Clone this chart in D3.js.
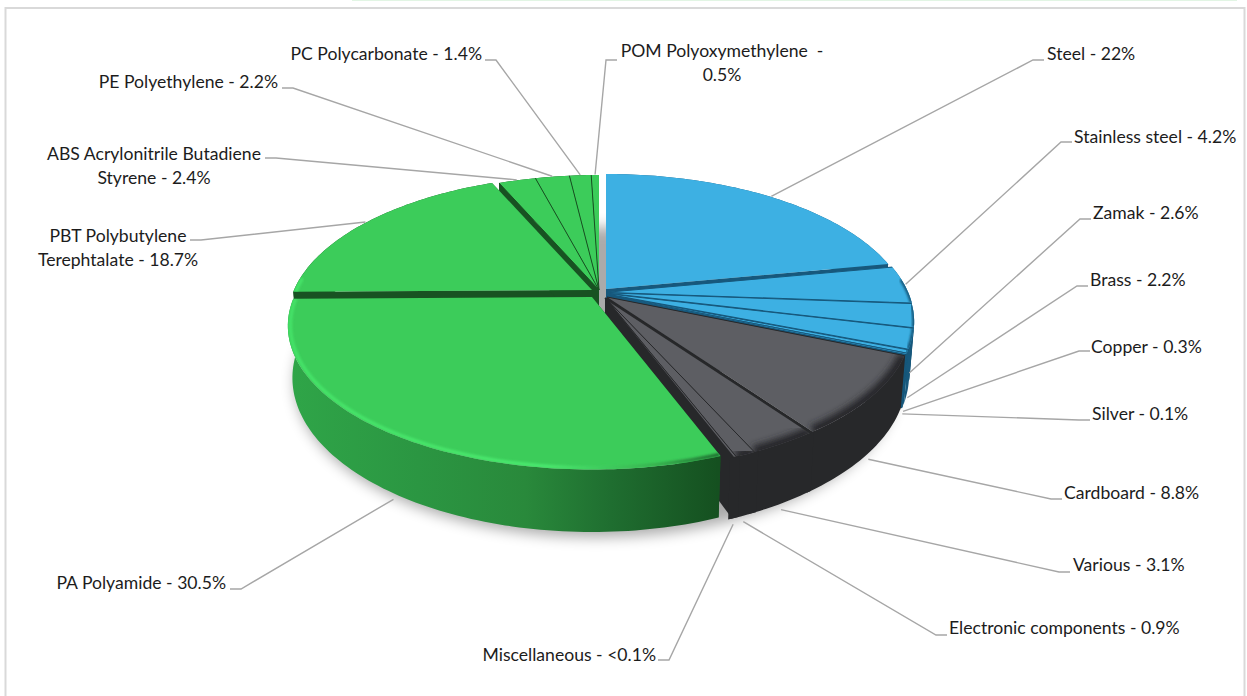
<!DOCTYPE html>
<html>
<head>
<meta charset="utf-8">
<script src="https://cdn.jsdelivr.net/npm/d3@7"></script>
<style>
html, body { margin: 0; padding: 0; background: #fff; }
svg { display: block; }
text { font-family: Lato, "Open Sans", sans-serif; font-size: 17.6px; fill: #1c1c1c; }
</style>
</head>
<body>
<div id="chart"></div>
<script>
var materials = ["Steel", "Stainless steel", "Zamak", "Brass", "Copper", "Silver", "Cardboard", "Various",
    "Electronic components", "Miscellaneous", "PA Polyamide", "PBT Polybutylene Terephtalate",
    "ABS Acrylonitrile Butadiene Styrene", "PE Polyethylene", "PC Polycarbonate", "POM Polyoxymethylene"];
var shares = [22, 4.2, 2.6, 2.2, 0.3, 0.1, 8.8, 3.1, 0.9, 0.1, 30.5, 18.7, 2.4, 2.2, 1.4, 0.5];
var groups = ["metal", "metal", "metal", "metal", "metal", "metal", "other", "other", "other", "other",
    "plastic", "plastic", "plastic", "plastic", "plastic", "plastic"];
var labelLines = [
    ["Steel - 22%"], ["Stainless steel - 4.2%"], ["Zamak - 2.6%"], ["Brass - 2.2%"], ["Copper - 0.3%"],
    ["Silver - 0.1%"], ["Cardboard - 8.8%"], ["Various - 3.1%"], ["Electronic components - 0.9%"],
    ["Miscellaneous - <0.1%"], ["PA Polyamide - 30.5%"], ["PBT Polybutylene", "Terephtalate - 18.7%"],
    ["ABS Acrylonitrile Butadiene", "Styrene - 2.4%"], ["PE Polyethylene - 2.2%"], ["PC Polycarbonate - 1.4%"],
    ["POM Polyoxymethylene  -", "0.5%"]
];

// layout only, not data
var svgWidth = 1247, svgHeight = 696;
var center = {x: 600, y: 292};
var radiusX = 298, radiusY = 138, persp = 0.2, depth = 50;

// how far each slice was pulled out of the pie, in pixels
var sliceShift = [[6, -3], [10, 0], [10, 1], [9.5, 2], [9, 3], [9, 3.5], [7, 5], [5, 6], [5.5, 6], [5.5, 6],
    [-8, 5], [-8, -2], [-1, -2], [-1, -2], [-1, -2], [-1, -2]];

// label position: x, first line y, text-anchor
var labelPos = [
    [1047, 54, "start"], [1074, 137, "start"], [1093, 213, "start"], [1090, 280, "start"], [1091, 347, "start"],
    [1092, 414, "start"], [1064, 493, "start"], [1073, 565, "start"], [949, 628, "start"], [656, 655, "end"],
    [226, 583, "end"], [118, 236, "middle"], [154, 154, "middle"], [278, 82, "end"], [482, 54, "end"], [722, 51, "middle"]
];
// where each leader reaches its label: x, y, direction of the short flat piece
var leaderEnd = [
    [1044, 60, -1], [1072, 142, -1], [1091, 219, -1], [1088, 286, -1], [1090, 351, -1],
    [1090, 420, -1], [1062, 499, -1], [1070, 572, -1], [947, 635, -1], [658, 660, 1],
    [230, 589, 1], [190, 240, 1], [265, 158, 1], [282, 88, 1], [485, 60, 1], [617, 60, -1]
];

var topColor = d3.scaleOrdinal().domain(["metal", "other", "plastic"]).range(["#3db0e3", "#5d5e63", "#3ccc5a"]);
var sideColor = d3.scaleOrdinal().domain(["metal", "other", "plastic"]).range(["#17587c", "#27282a", "#185222"]);

var xScale = d3.scaleLinear().domain([-1, 1]).range([center.x - radiusX, center.x + radiusX]);
var yScale = d3.scaleLinear().domain([-1, 1]).range([center.y - radiusY, center.y + radiusY]);

var svg = d3.select("#chart")
    .append("svg")
    .attr("width", svgWidth)
    .attr("height", svgHeight);

var defs = svg.append("defs");
defs.append("filter").attr("id", "soft").attr("x", "-20%").attr("y", "-20%").attr("width", "140%").attr("height", "140%")
    .append("feGaussianBlur").attr("stdDeviation", 7);
defs.append("filter").attr("id", "bevel").attr("x", "-20%").attr("y", "-20%").attr("width", "140%").attr("height", "140%")
    .append("feGaussianBlur").attr("stdDeviation", 3);
defs.append("filter").attr("id", "bevelThin").attr("x", "-20%").attr("y", "-20%").attr("width", "140%").attr("height", "140%")
    .append("feGaussianBlur").attr("stdDeviation", 1.1);

var greenWall = defs.append("linearGradient").attr("id", "greenWall")
    .attr("gradientUnits", "userSpaceOnUse")
    .attr("x1", 290).attr("x2", 718).attr("y1", 0).attr("y2", 0);
[[0, "#2fa548"], [0.3, "#2b9642"], [0.55, "#29893b"], [0.75, "#1f6e30"], [1, "#155020"]].forEach(function(s) {
    greenWall.append("stop").attr("offset", s[0]).attr("stop-color", s[1]);
});
var greenRim = defs.append("linearGradient").attr("id", "greenRim")
    .attr("gradientUnits", "userSpaceOnUse")
    .attr("x1", 290).attr("x2", 718).attr("y1", 0).attr("y2", 0);
[[0, "#45e268"], [0.6, "#4ae86e"], [0.85, "#38b350"], [1, "#1f6e30"]].forEach(function(s) {
    greenRim.append("stop").attr("offset", s[0]).attr("stop-color", s[1]);
});

// frame and the bit of the next box showing at the top
svg.append("rect").attr("x", 352).attr("y", -2).attr("width", 885).attr("height", 3).attr("fill", "#e2f5e4");
svg.append("rect").attr("x", 5.5).attr("y", 8).attr("width", 1239).attr("height", 700)
    .attr("fill", "#fff").attr("stroke", "#d9d9d9").attr("stroke-width", 2);

// theta clockwise from 12 o'clock, r 0-1, lower 0 = top face, 1 = bottom face
function project(theta, r, lower, shift) {
    var u = r * Math.sin(theta), v = -r * Math.cos(theta);
    var f = 1 / (1 - persp * v);
    return [
        xScale(u * f * (1 - 0.015 * lower)) + shift[0],
        yScale(v * f) + shift[1] + depth * f * lower
    ];
}

var line = d3.line();

function arcAngles(a0, a1) {
    var n = Math.max(2, Math.ceil((a1 - a0) / 0.02));
    return d3.range(n + 1).map(function(i) { return a0 + (a1 - a0) * i / n; });
}

var pie = d3.pie().sort(null).value(function(d) { return d; }).startAngle(0).endAngle(2 * Math.PI);
var slices = pie(shares).map(function(d, i) {
    d.i = i;
    d.group = groups[i];
    d.shift = sliceShift[i];
    d.mid = (d.startAngle + d.endAngle) / 2;
    return d;
});

// ground shadow, also what shows through the gap between the slices
svg.append("path")
    .attr("d", line(arcAngles(0, 2 * Math.PI).map(function(a) {
        return project(a, 1.005, 1, [-4, 9]);
    })) + "Z")
    .attr("fill", "#000")
    .attr("opacity", 0.33)
    .attr("filter", "url(#soft)");

// back to front, the big polyamide slice sits on top of its neighbours
var drawOrder = slices.slice().sort(function(a, b) {
    if (a.value === 30.5) return 1;
    if (b.value === 30.5) return -1;
    return (-Math.cos(a.mid)) - (-Math.cos(b.mid));
});

var pieGroup = svg.append("g");

drawOrder.forEach(function(d) {
    var g = pieGroup.append("g").attr("class", "slice");
    var angles = arcAngles(d.startAngle, d.endAngle);
    var s = d.shift;
    var dark = sideColor(d.group);

    // radial walls
    [d.startAngle, d.endAngle].forEach(function(a) {
        g.append("path")
            .attr("d", line([project(a, 0, 0, s), project(a, 1, 0, s), project(a, 1, 1, s), project(a, 0, 1, s)]) + "Z")
            .attr("fill", dark);
    });

    // outer wall, the dark slices run a hair wider so they leave no slit
    var isBig = d.group === "plastic" && d.value > 20;
    var wallAngles = d.group === "other" ? arcAngles(d.startAngle - 0.012, d.endAngle + 0.012) : angles;
    var wall = wallAngles.map(function(a) { return project(a, 1, 0, s); })
        .concat(wallAngles.slice().reverse().map(function(a) { return project(a, 1, 1, s); }));
    g.append("path")
        .attr("d", line(wall) + "Z")
        .attr("fill", isBig ? "url(#greenWall)" : dark);

    // top face
    var face = [project(0, 0, 0, s)].concat(angles.map(function(a) { return project(a, 1, 0, s); }));
    var faceD = line(face) + "Z";
    g.append("path").attr("d", faceD).attr("fill", topColor(d.group));

    // rounded rim on the side towards the viewer
    var rimAngles = angles.filter(function(a) { return -Math.cos(a) > -0.1; });
    if (rimAngles.length > 1) {
        var clipId = "clip" + d.i;
        defs.append("clipPath").attr("id", clipId).append("path").attr("d", faceD);
        var rim = g.append("g").attr("clip-path", "url(#" + clipId + ")");
        if (d.group === "plastic") {
            rim.append("path")
                .attr("d", line(rimAngles.map(function(a) { return project(a, 0.992, 0, s); })))
                .attr("fill", "none").attr("stroke", "url(#greenRim)").attr("stroke-width", 3.5)
                .attr("filter", "url(#bevelThin)");
        } else if (d.group === "other") {
            rim.append("path")
                .attr("d", line(rimAngles.map(function(a) { return project(a, 1, 0, s); })))
                .attr("fill", "none").attr("stroke", dark).attr("stroke-width", 13)
                .attr("filter", "url(#bevel)");
        } else {
            rim.append("path")
                .attr("d", line(rimAngles.map(function(a) { return project(a, 1, 0, s); })))
                .attr("fill", "none").attr("stroke", dark).attr("stroke-width", 4)
                .attr("filter", "url(#bevelThin)");
        }
    }
});

// thin seams between the small slices
slices.filter(function(d) { return d.value < 10; }).forEach(function(d) {
    pieGroup.append("path")
        .attr("d", line([project(d.startAngle, 0, 0, d.shift), project(d.startAngle, 1, 0, d.shift)]))
        .attr("fill", "none")
        .attr("stroke", sideColor(d.group))
        .attr("stroke-width", d.value === 3.1 ? 2 : 1);
});

// leader lines
slices.forEach(function(d) {
    var facing = -Math.cos(d.mid) > 0;
    var from = facing ? project(d.mid, 1, 1, [d.shift[0], d.shift[1] + 6]) : project(d.mid, 1.005, 0, d.shift);
    var end = leaderEnd[d.i];
    var elbow = [end[0] + end[2] * 11, end[1]];
    svg.append("path")
        .attr("d", line([from, elbow, [end[0], end[1]]]))
        .attr("fill", "none")
        .attr("stroke", "#a6a6a6")
        .attr("stroke-width", 1.4);
});

// labels
svg.selectAll("text.label")
    .data(labelLines)
    .enter()
    .append("text")
    .attr("class", "label")
    .attr("text-anchor", function(d, i) { return labelPos[i][2]; })
    .each(function(lines, i) {
        var t = d3.select(this);
        lines.forEach(function(l, k) {
            t.append("tspan")
                .attr("x", labelPos[i][0])
                .attr("y", labelPos[i][1] + 6 + k * 24)
                .attr("xml:space", "preserve")
                .text(l);
        });
    });
</script>
</body>
</html>
